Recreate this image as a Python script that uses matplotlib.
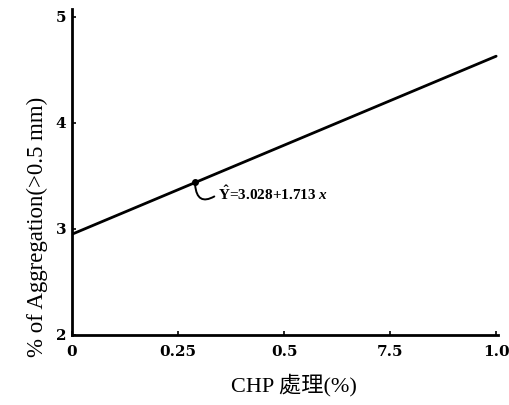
import matplotlib
matplotlib.use("Agg")
import matplotlib.pyplot as plt
import numpy as np

plt.rcParams["mathtext.fontset"] = "custom"
plt.rcParams["mathtext.rm"] = "Liberation Serif:bold"
plt.rcParams["mathtext.bf"] = "Liberation Serif:bold"
plt.rcParams["mathtext.it"] = "Liberation Serif:italic:bold"

# Data
x_line = [0.0, 1.0]
y_line = [2.95, 4.63]
point_x = [0.29]
point_y = [3.44]
xtick_vals = [0, 0.25, 0.5, 0.75, 1.0]
xtick_labels = ["0", "0.25", "0.5", "7.5", "1.0"]
ytick_vals = [2, 3, 4, 5]
ytick_labels = ["2", "3", "4", "5"]
equation = r"$\hat{\mathbf{Y}}$=3.028+1.713 $\mathit{x}$"

fig = plt.figure(figsize=(5.1, 4.05), dpi=100)
ax = fig.add_axes([0.141, 0.173, 0.836, 0.806])

ax.plot(x_line, y_line, color="black", lw=2.0, solid_capstyle="round")
ax.plot(point_x, point_y, "o", color="black", ms=4)

ax.set_xlim(0, 1.005)
ax.set_ylim(2, 5.08)

for s in ["top", "right"]:
    ax.spines[s].set_visible(False)
for s in ["left", "bottom"]:
    ax.spines[s].set_linewidth(2.0)

tick_font = dict(fontsize=11, fontweight="bold", family="DejaVu Serif")
ax.set_xticks(xtick_vals)
ax.set_xticklabels(xtick_labels, **tick_font)
ax.set_yticks(ytick_vals)
ax.set_yticklabels(ytick_labels, **tick_font)
ax.tick_params(direction="in", length=3, width=1.2)
ax.tick_params(axis="x", pad=7)
ax.tick_params(axis="y", pad=4)

ax.set_ylabel("% of Aggregation(>0.5 mm)", fontsize=16.5,
              family=["Liberation Serif", "DejaVu Serif"])
ax.yaxis.set_label_coords(-0.057, 0.33)
ax.set_xlabel("CHP 處理(%)", fontsize=16,
              family=["Liberation Serif", "Noto Sans CJK TC"])
ax.xaxis.set_label_coords(0.52, -0.118)

# annotation with curly connector
ax.annotate(equation, xy=(0.29, 3.44), xytext=(0.345, 3.33),
            fontsize=11, fontweight="bold", family="Liberation Serif",
            va="center", ha="left",
            arrowprops=dict(arrowstyle="-", color="black", lw=1.4,
                            connectionstyle="arc3,rad=-0.9",
                            relpos=(0, 0.5),
                            shrinkA=1, shrinkB=2))

fig.savefig("out.png", dpi=100)
